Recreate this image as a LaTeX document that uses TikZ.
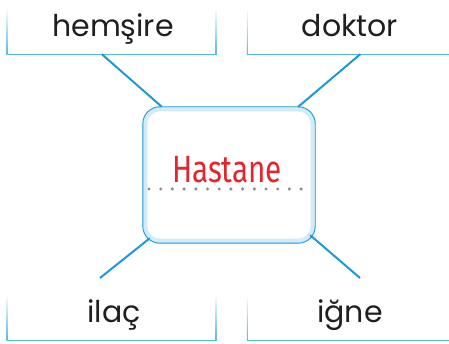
\documentclass[tikz,border=0pt]{standalone}
\usepackage{fontspec}
\setmainfont{Poppins}
\newfontfamily\hfont{Fira Sans}
\usetikzlibrary{calc}
\definecolor{lineblue}{HTML}{1A9AD6}
\definecolor{boxblue}{HTML}{55B9E8}
\definecolor{bandblue}{HTML}{D3EAF8}
\definecolor{hred}{HTML}{E3262E}
\definecolor{dotgray}{HTML}{8C8C8C}
\begin{document}
\begin{tikzpicture}[x=1pt,y=-1pt,
  wordbox/.style={minimum width=209pt, minimum height=46pt, inner sep=0pt},
  word/.style={anchor=base, inner sep=0pt, font=\fontsize{30}{32}\selectfont, text=black!88},
  conn/.style={draw=lineblue, line width=2pt},
  boxline/.style={draw=boxblue, line width=1.1pt},
  fadeside/.style={top color=white, bottom color=boxblue}]
\useasboundingbox (0,0) rectangle (449,344);

% word boxes
\node[wordbox] (b1) at (111.5,31) {};
\node[wordbox] (b2) at (352,31) {};
\node[wordbox] (b3) at (111.5,317) {};
\node[wordbox] (b4) at (352,317) {};

\foreach \b in {b1,b3}{
  \draw[boxline] (\b.south west) -- (\b.south east);
  \shade[fadeside] ($(\b.south west)+(-0.55,0)$) rectangle ($(\b.north west)+(0.55,0)$);
  \shade[fadeside] ($(\b.south east)+(-0.55,0)$) rectangle ($(\b.north east)+(0.55,0)$);
}
\foreach \b in {b2,b4}{
  \draw[boxline] (\b.south west) -- (\b.south east);
  \shade[fadeside] ($(\b.south west)+(-0.55,0)$) rectangle ($(\b.north west)+(0.55,0)$);
}

\node[word] (w1) at (113,36.5) {hemşire};
\node[word] (w2) at (350,36.5) {doktor};
\node[word] (w3) at (114,322) {ilaç};
\node[word] (w4) at (350,322) {iğne};

% center box
\node[minimum width=172pt, minimum height=136pt, inner sep=0pt] (ctr) at (229,175) {};
\fill[bandblue, draw=lineblue, line width=0.9pt, rounded corners=17pt]
  (ctr.north west) rectangle (ctr.south east);
\fill[white, rounded corners=13pt]
  ($(ctr.north west)+(4.5,4.5)$) rectangle ($(ctr.south east)+(-4.5,-4.5)$);

\draw[dotgray, line width=3.4pt, line cap=round, dash pattern=on 0pt off 11.7pt]
  (149,189) -- (309,189);
\node[anchor=base, inner sep=0pt, text=hred] (title) at (227,183)
  {\scalebox{0.78}[1]{\hfont\fontsize{38}{40}\selectfont Hastane}};

% connectors
\coordinate (e1) at ($(b1.south west)+(95,0)$);
\coordinate (e2) at ($(b2.south west)+(113,0)$);
\coordinate (e3) at (100,278);
\coordinate (e4) at (360,278);
\draw[conn] (e1) -- ($(ctr.north west)+(19,0)$);
\draw[conn] (e2) -- ($(ctr.north east)+(-17,0)$);
\draw[conn] (e3) -- ($(ctr.south west)+(7,-5)$);
\draw[conn] (e4) -- ($(ctr.south east)+(-5,-8)$);
\end{tikzpicture}
\end{document}
